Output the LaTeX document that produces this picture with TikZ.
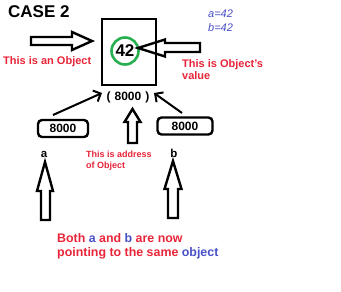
\documentclass[tikz,border=0pt]{standalone}
\usepackage{fontspec}
\setmainfont{Liberation Sans}
\usetikzlibrary{arrows.meta}
\definecolor{ored}{RGB}{232,36,56}
\definecolor{oblue}{RGB}{72,80,200}
\definecolor{ogreen}{RGB}{40,175,80}
\begin{document}
\begin{tikzpicture}[x=1pt,y=-1pt,
  lbl/.style={inner sep=0pt, anchor=base west},
  bfs/.style={font=\bfseries\fontsize{#1}{#1}\selectfont},
  redtxt/.style={lbl, text=ored},
  blockarrow/.style={draw=black, line width=2.4pt, line join=miter},
  membox/.style={draw, line width=2.4pt, rounded corners=4pt, inner sep=0pt, minimum height=17pt, bfs=12},
  ptr/.style={draw, line width=2pt, -{Straight Barb[length=6pt,width=12pt]}}]
\useasboundingbox (0,0) rectangle (341,292);

% title
\node[lbl, bfs=17] (title) at (8,17.5) {CASE 2};

% object box and value
\node[draw, line width=2.5pt, minimum width=54pt, minimum height=66pt, inner sep=0pt] (obj) at (129,52) {};
\node[circle, draw=ogreen, line width=2.6pt, minimum size=27pt, inner sep=0pt, bfs=17] (val) at (125,51) {42};

% horizontal block arrows
\draw[blockarrow] (31,37) -- (72,37) -- (72,32) -- (92,41) -- (72,50) -- (72,45) -- (31,45) -- cycle;
\draw[blockarrow] (200,43) -- (165,43) -- (165,39.5) -- (138,48) -- (165,56.5) -- (165,52) -- (200,52) -- cycle;

% labels top
\node[redtxt, bfs=11] (isobj) at (3,64) {This is an Object};
\node[redtxt, bfs=11] (isval1) at (182,67) {This is Object's};
\node[redtxt, bfs=11] (isval2) at (182,79) {value};
\node[lbl, text=oblue, font=\itshape\fontsize{11}{11}\selectfont] (va) at (208,17.5) {a=42};
\node[lbl, text=oblue, font=\itshape\fontsize{11}{11}\selectfont] (vb) at (208,31) {b=42};

% address
\node[inner sep=0pt, anchor=base, bfs=12] (addr) at (128,100) {(\hspace{4pt}8000\hspace{4pt})};

% reference boxes
\node[membox, minimum width=50pt] (boxA) at (63,128.5) {8000};
\node[membox, minimum width=55pt] (boxB) at (185,126) {8000};

\coordinate (sA) at (53,115);
\coordinate (tA) at (102,93);
\coordinate (sB) at (182,113);
\coordinate (tB) at (154,93);
\draw[ptr] (sA) -- (tA);
\draw[ptr] (sB) -- (tB);

% middle up arrow
\draw[blockarrow] (128,143) -- (128,122) -- (124.5,122) -- (132.5,109) -- (140.5,122) -- (137,122) -- (137,143) -- cycle;

% variable names
\node[inner sep=0pt, anchor=base, bfs=11.5] (na) at (44,157) {a};
\node[inner sep=0pt, anchor=base, bfs=11.5] (nb) at (174,157) {b};

\node[redtxt, bfs=9] (addr1) at (86,157) {This is address};
\node[redtxt, bfs=9] (addr2) at (86,168) {of Object};

% up arrows under a and b
\draw[blockarrow] (41,220) -- (41,191) -- (37,191) -- (45,162) -- (53,191) -- (50,191) -- (50,220) -- cycle;
\draw[blockarrow] (168,218) -- (168,189) -- (164.5,189) -- (173,161) -- (181.5,189) -- (178,189) -- (178,218) -- cycle;

% bottom text
\node[redtxt, bfs=12.4] (both1) at (57,242) {Both \textcolor{oblue}{a} and \textcolor{oblue}{b} are now};
\node[redtxt, bfs=12.4] (both2) at (57,256) {pointing to the same \textcolor{oblue}{object}};
\end{tikzpicture}
\end{document}
